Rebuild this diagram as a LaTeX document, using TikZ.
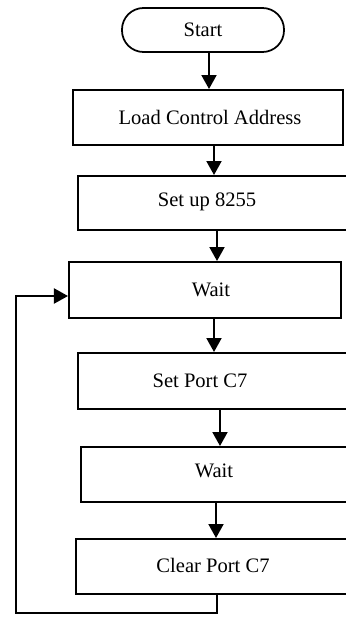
\documentclass[tikz,border=0pt]{standalone}
\usepackage{fontspec}
\setmainfont{Liberation Serif}
\usetikzlibrary{arrows.meta}
\tikzset{
    box/.style={draw, line width=0.4mm, rectangle, inner sep=0pt},
    term/.style={draw, line width=0.35mm, rectangle, rounded corners=4.3mm, minimum width=32.4mm, minimum height=8.8mm},
    txt/.style={inner sep=0pt, font=\fontsize{11.7}{14}\selectfont},
    arr/.style={line width=0.4mm, -{Triangle[length=2.8mm, width=3mm]}},
  }
\begin{document}
\begin{tikzpicture}[x=0.2mm, y=-0.2mm]
				  \useasboundingbox (0,0) rectangle (346,617);
				  \clip (0,0) rectangle (346,617);
				  %boxes
				  \node[term, txt] (start) at (203,30) {Start};
				  \node[box, minimum width=54mm, minimum height=11mm] (load) at (208,117.5) {};
				  \node[box, minimum width=56.4mm, minimum height=10.8mm] (setup) at (219,203) {};
				  \node[box, minimum width=54.4mm, minimum height=11.2mm] (wait1) at (205,290) {};
				  \node[box, minimum width=56.4mm, minimum height=11.2mm] (setc) at (219,381) {};
				  \node[box, minimum width=55.8mm, minimum height=11mm] (wait2) at (220.5,474.5) {};
				  \node[box, minimum width=56.8mm, minimum height=11mm] (clear) at (218,566.5) {};
				  %texts
				  \node[txt] (tload) at (210,117) {Load Control Address};
				  \node[txt] (tsetup) at (207,202) {Set up 8255};
				  \node[txt] (twait1) at (211,290) {Wait};
				  \node[txt] (tsetc) at (200,381) {Set Port C7};
				  \node[txt] (twait2) at (214,471) {Wait};
				  \node[txt] (tclear) at (213,565) {Clear Port C7};

				  \draw[arr] (start.south -| 209,0) -- (load.north -| 209,0);
				  \draw[arr] (load.south -| 214,0) -- (setup.north -| 214,0);
				  \draw[arr] (setup.south -| 217,0) -- (wait1.north -| 217,0);
				  \draw[arr] (wait1.south -| 214,0) -- (setc.north -| 214,0);
				  \draw[arr] (setc.south -| 220,0) -- (wait2.north -| 220,0);
				  \draw[arr] (wait2.south -| 216,0) -- (clear.north -| 216,0);
				  %loop back
				  \draw[arr] (clear.south -| 217,0) |- (16,613) |- (wait1.west |- 0,296);
				  \end{tikzpicture}
\end{document}
